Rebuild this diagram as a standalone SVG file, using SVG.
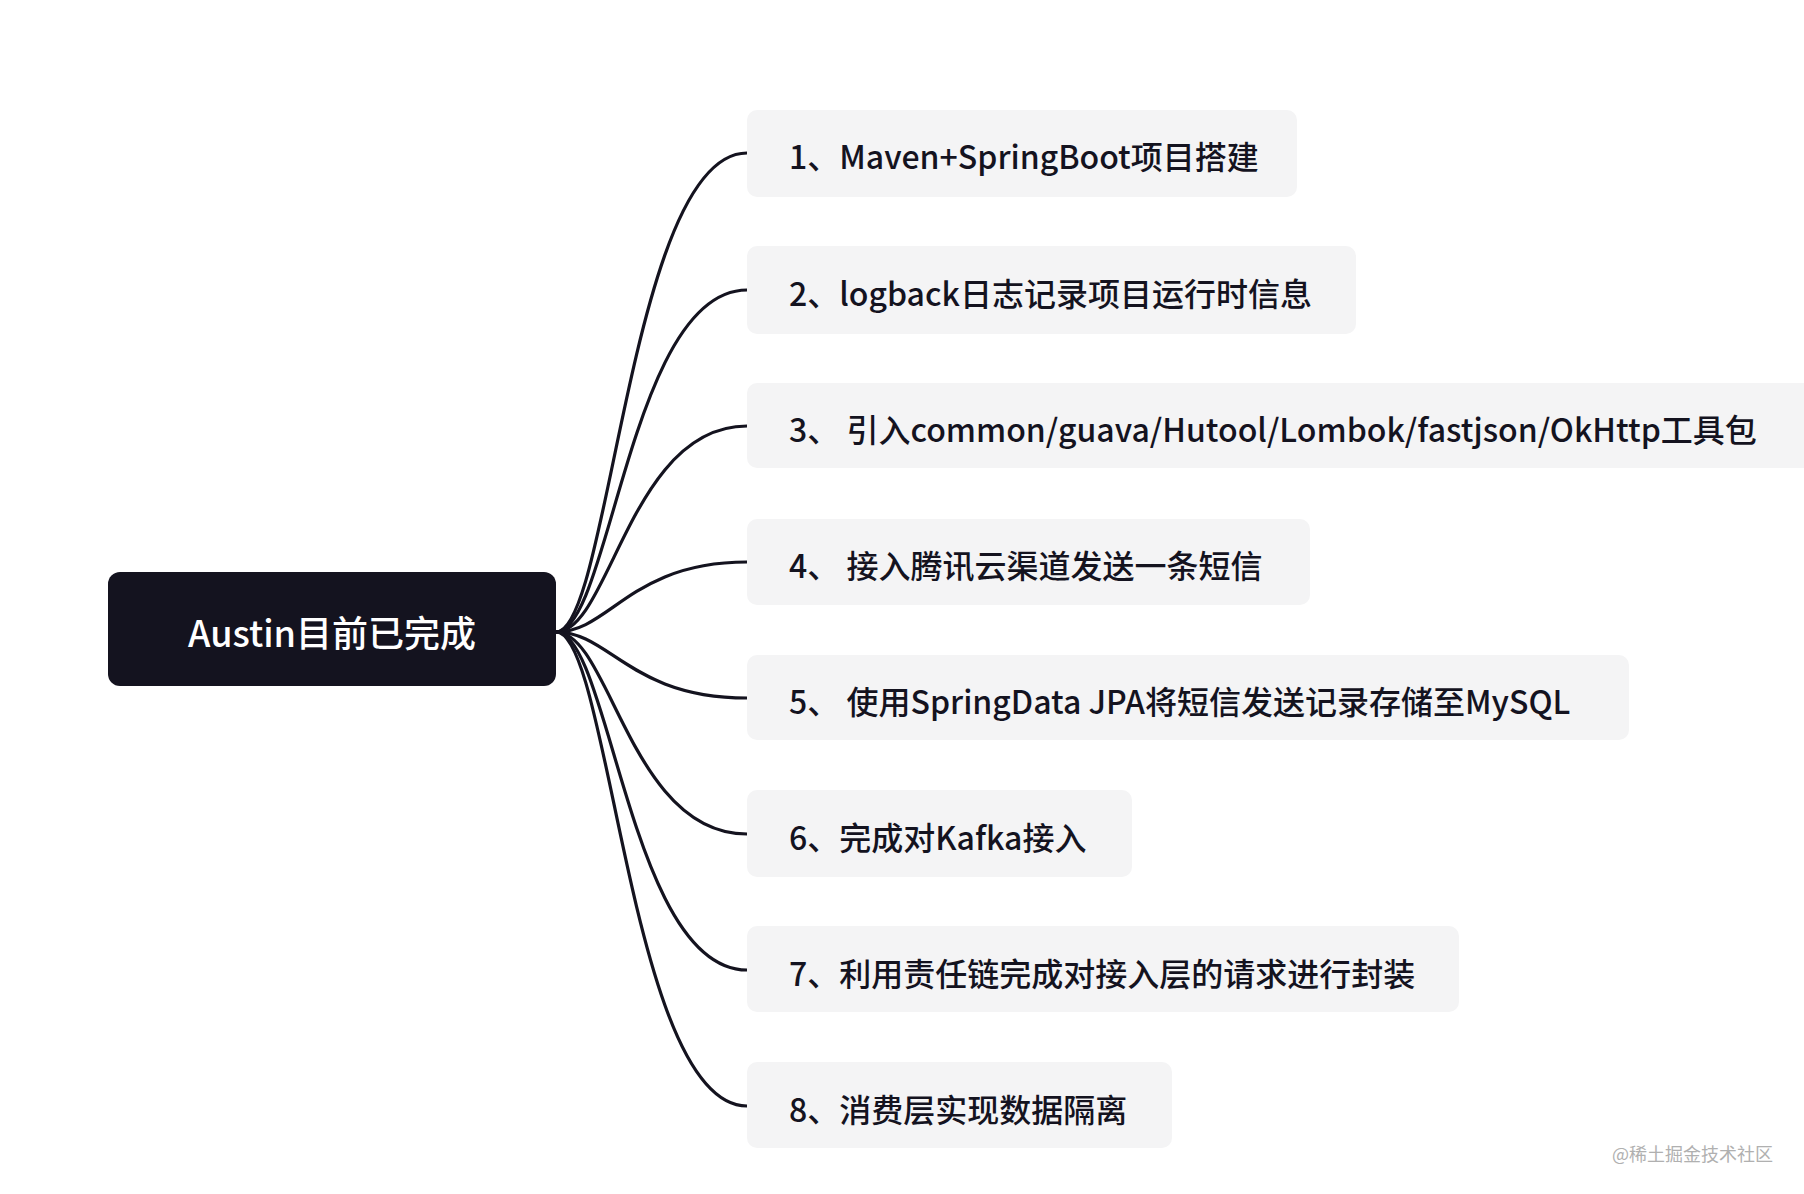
<svg xmlns="http://www.w3.org/2000/svg" width="1804" height="1194" viewBox="0 0 1804 1194">
<style>
.box{fill:#f4f4f5}
.t{font-family:"Noto Sans CJK SC","Noto Sans",sans-serif;font-size:32px;fill:#14131f;font-weight:500;dominant-baseline:central}
.c{fill:none;stroke:#14131f;stroke-width:3.2}
</style>
<rect width="1804" height="1194" fill="#fff"/>
<g id="connectors">
<path class="c" d="M556 632 C610 632 630 153 747 153"/>
<path class="c" d="M556 632 C610 632 630 290 747 290"/>
<path class="c" d="M556 632 C610 632 630 426 747 426"/>
<path class="c" d="M556 632 C610 632 630 562 747 562"/>
<path class="c" d="M556 632 C610 632 630 698 747 698"/>
<path class="c" d="M556 632 C610 632 630 834 747 834"/>
<path class="c" d="M556 632 C610 632 630 970 747 970"/>
<path class="c" d="M556 632 C610 632 630 1106 747 1106"/>
</g>
<g id="root"><rect x="108" y="572" width="448" height="114" rx="12" fill="#14131f"/><text x="332" y="631" class="t" style="fill:#fff;font-size:36px" text-anchor="middle">Austin目前已完成</text></g>
<g id="n1"><rect class="box" x="747" y="110" width="550" height="87" rx="10"/><text class="t" x="789" y="155">1、Maven+SpringBoot项目搭建</text></g>
<g id="n2"><rect class="box" x="747" y="246" width="609" height="88" rx="10"/><text class="t" x="789" y="292">2、logback日志记录项目运行时信息</text></g>
<g id="n3"><rect class="box" x="747" y="383" width="1070" height="85" rx="10"/><text class="t" x="789" y="428">3、 引入common/guava/Hutool/Lombok/fastjson/OkHttp工具包</text></g>
<g id="n4"><rect class="box" x="747" y="519" width="563" height="86" rx="10"/><text class="t" x="789" y="564">4、 接入腾讯云渠道发送一条短信</text></g>
<g id="n5"><rect class="box" x="747" y="655" width="882" height="85" rx="10"/><text class="t" x="789" y="700">5、 使用SpringData JPA将短信发送记录存储至MySQL</text></g>
<g id="n6"><rect class="box" x="747" y="790" width="385" height="87" rx="10"/><text class="t" x="789" y="836">6、完成对Kafka接入</text></g>
<g id="n7"><rect class="box" x="747" y="926" width="712" height="86" rx="10"/><text class="t" x="789" y="972">7、利用责任链完成对接入层的请求进行封装</text></g>
<g id="n8"><rect class="box" x="747" y="1062" width="425" height="86" rx="10"/><text class="t" x="789" y="1108">8、消费层实现数据隔离</text></g>
<text x="1773" y="1153" text-anchor="end" style="font-family:'Noto Sans CJK SC',sans-serif;font-size:18px;fill:#b0b0b0" dominant-baseline="central">@稀土掘金技术社区</text>
</svg>
